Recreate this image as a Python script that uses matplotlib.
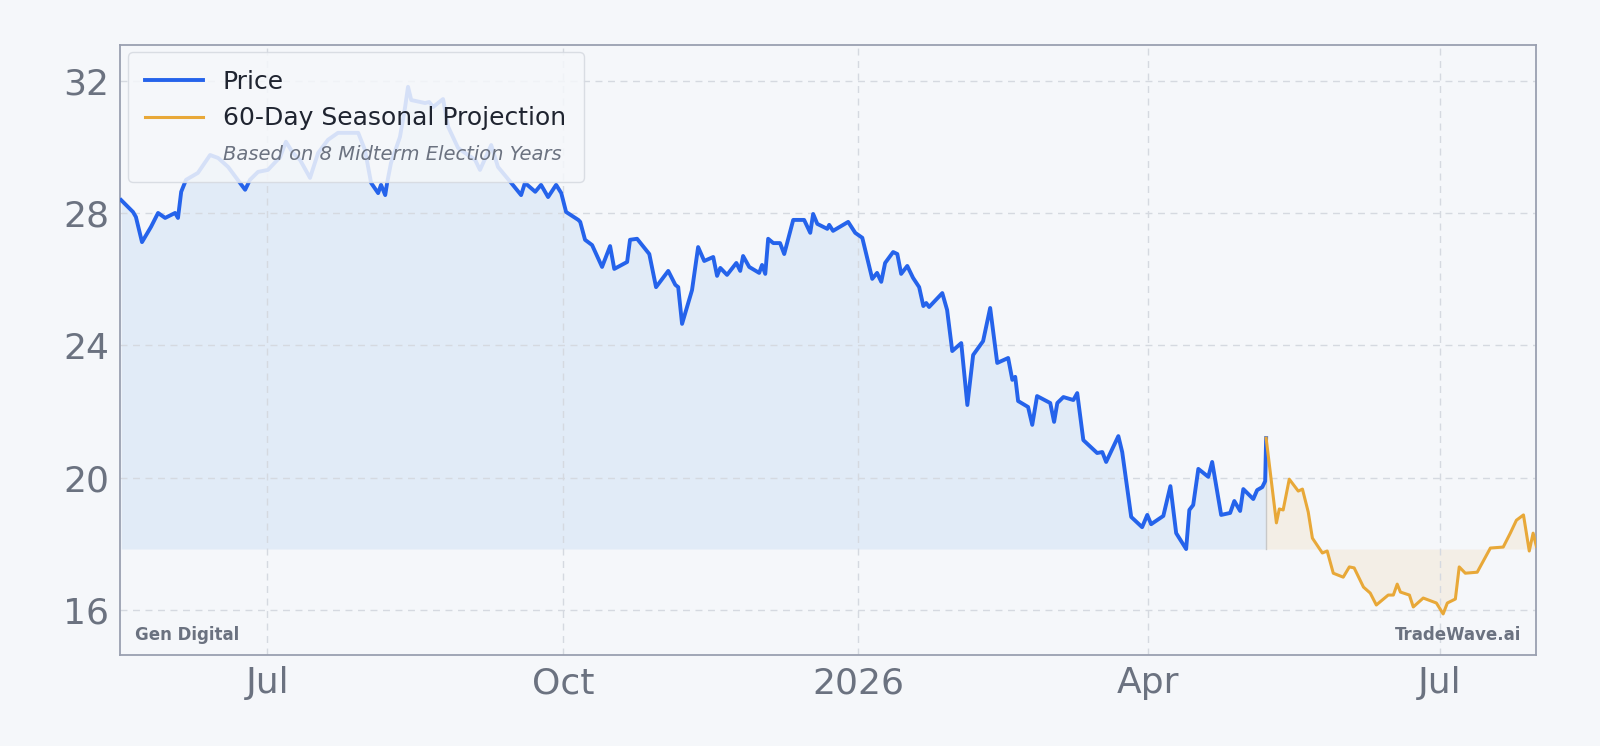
import matplotlib
matplotlib.use("Agg")
import matplotlib.pyplot as plt
import matplotlib.dates as mdates
from matplotlib.lines import Line2D
import numpy as np
import datetime as dt

# days relative to 2025-07-01
price_days = [-45.5,-41.8,-40.9,-39.0,-36.2,-34.0,-31.8,-28.7,-27.8,-26.8,-25.3,-21.6,-17.8,-15.3,-12.2,-8.5,-6.9,-5.4,-2.9,0.2,
 4.0,5.8,8.0,10.2,13.3,15.8,18.9,22.0,28.3,30.4,32.3,34.5,35.4,36.7,37.3,38.5,41.3,42.9,43.8,44.8,49.1,50.4,51.6,54.7,56.3,59.4,
 64.7,66.2,69.7,71.8,75.9,79.0,80.2,83.4,85.2,87.4,89.9,91.5,93.0,96.8,97.4,98.9,101.1,104.2,106.7,108.0,112.0,112.9,115.1,118.9,
 121.0,124.8,127.0,127.9,129.1,132.2,134.1,136.0,138.8,140.0,141.0,143.1,146.0,147.2,148.1,150.0,153.1,154.0,155.0,155.9,157.5,
 159.6,160.9,163.7,167.1,169.0,169.9,171.2,174.3,174.9,176.1,180.8,183.0,185.2,188.3,189.8,191.1,192.3,194.8,196.1,197.3,199.2,
 201.0,202.9,204.2,205.1,206.0,210.1,211.6,213.2,216.0,217.9,219.7,222.8,225.0,227.2,230.6,231.9,232.8,233.7,236.8,238.1,239.6,
 243.7,244.9,245.9,247.8,250.9,252.1,254.0,258.3,259.9,261.1,264.9,266.1,268.9,272.3,273.9,275.1,278.9,281.1,282.9,286.0,287.0,
 288.2,289.8,292.9,294.1,296.9,299.7,301.0,302.8,303.8,306.9,308.1,309.7,310.6,310.9]
price_vals = [28.39,28.03,27.88,27.12,27.58,28.00,27.85,28.00,27.85,28.64,29.00,29.21,29.75,29.66,29.39,28.91,28.70,29.00,29.24,29.30,
 29.69,30.15,29.81,29.60,29.06,29.81,30.21,30.42,30.42,29.90,28.91,28.60,28.85,28.54,28.91,29.51,30.30,31.20,31.81,31.41,31.32,31.35,31.20,31.44,30.60,29.96,
 29.60,29.30,30.05,29.39,28.91,28.54,28.91,28.64,28.85,28.48,28.85,28.60,28.03,27.79,27.73,27.19,27.03,26.37,27.00,26.31,26.52,27.19,27.22,26.76,
 25.76,26.25,25.83,25.76,24.65,25.67,26.97,26.55,26.67,26.10,26.34,26.13,26.49,26.25,26.70,26.37,26.19,26.43,26.16,27.22,27.09,
 27.09,26.76,27.79,27.79,27.40,27.97,27.67,27.52,27.64,27.46,27.73,27.40,27.25,26.01,26.19,25.92,26.49,26.82,26.76,26.16,26.40,
 26.04,25.76,25.19,25.28,25.16,25.58,25.07,23.83,24.07,22.20,23.71,24.13,25.13,23.47,23.62,22.96,23.05,22.32,22.14,21.60,22.47,
 22.26,21.69,22.26,22.44,22.35,22.56,21.14,20.75,20.78,20.48,21.26,20.78,18.82,18.51,18.88,18.60,18.85,19.75,18.33,17.85,19.03,
 19.18,20.27,20.03,20.48,18.88,18.94,19.30,19.00,19.66,19.36,19.63,19.72,19.90,21.20]

proj_days = [310.9,314.1,315.0,316.2,318.1,320.9,322.2,324.0,325.3,328.4,329.9,331.8,334.9,336.8,338.3,341.2,343.3,345.2,348.9,350.5,
 351.7,352.7,355.5,356.7,359.8,363.9,366.0,367.3,369.8,371.0,372.9,376.6,380.7,384.7,386.9,388.8,391.0,392.8,394.0,395.0]
proj_vals = [21.20,18.64,19.06,19.03,19.96,19.60,19.66,18.97,18.18,17.73,17.79,17.12,17.00,17.31,17.28,16.70,16.52,16.16,16.46,16.46,
 16.79,16.55,16.46,16.10,16.37,16.22,15.89,16.22,16.34,17.31,17.12,17.15,17.88,17.91,18.33,18.72,18.88,17.79,18.33,17.94]

base = mdates.date2num(dt.datetime(2025, 7, 1))
px = base + np.array(price_days)
py = np.array(price_vals)
qx = base + np.array(proj_days)
qy = np.array(proj_vals)
floor = py.min()

BG = "#f5f7fa"
fig = plt.figure(figsize=(16, 7.46), dpi=100, facecolor=BG)
ax = fig.add_axes([0.0753, 0.122, 0.8845, 0.818], facecolor=BG)

ax.fill_between(px, py, floor, color="#dce9f7", alpha=0.8, lw=0, zorder=1)
ax.fill_between(qx, qy, floor, color="#f3e8da", alpha=0.6, lw=0, zorder=1)
ax.plot([qx[0], qx[0]], [floor, qy[0]], color="#c8c8c8", lw=1, zorder=2)
ax.plot(px, py, color="#2563eb", lw=2.8, zorder=3)
ax.plot(qx, qy, color="#e8a838", lw=2.2, zorder=3)

ax.set_xlim(base - 45.7, base + 394.8)
ax.set_ylim(14.65, 33.08)
ax.set_yticks([16, 20, 24, 28, 32])
ticks = [dt.datetime(2025,7,1), dt.datetime(2025,10,1), dt.datetime(2026,1,1), dt.datetime(2026,4,1), dt.datetime(2026,7,1)]
ax.set_xticks([mdates.date2num(t) for t in ticks])
ax.set_xticklabels(["Jul", "Oct", "2026", "Apr", "Jul"])
ax.tick_params(axis="both", labelsize=26, colors="#6b7280", length=0, pad=8)
ax.grid(True, color="#d5d9e0", ls=(0, (5, 4)), lw=1)
for s in ax.spines.values():
    s.set_color("#9aa0b0"); s.set_linewidth(1.3)

handles = [Line2D([], [], color="#2563eb", lw=2.8),
           Line2D([], [], color="#e8a838", lw=2.2),
           Line2D([], [], color="none")]
leg = ax.legend(handles, ["Price", "60-Day Seasonal Projection", "Based on 8 Midterm Election Years"],
                loc="upper left", fontsize=18, frameon=True, facecolor=BG, edgecolor="#d5d9e0",
                framealpha=0.85, borderpad=0.5, handlelength=2.3, labelspacing=0.5)
leg.get_frame().set_boxstyle("round,pad=0.2,rounding_size=0.2")
t3 = leg.get_texts()[2]
t3.set_fontstyle("italic"); t3.set_fontsize(14); t3.set_color("#6b7280")
for t in leg.get_texts()[:2]:
    t.set_color("#1f2430")

ax.text(0.01, 0.025, "Gen Digital", transform=ax.transAxes, fontsize=12, fontweight="bold", color="#6b7280")
ax.text(0.99, 0.025, "TradeWave.ai", transform=ax.transAxes, fontsize=12, fontweight="bold", color="#6b7280", ha="right")

fig.savefig("out.png", dpi=100, facecolor=BG)
